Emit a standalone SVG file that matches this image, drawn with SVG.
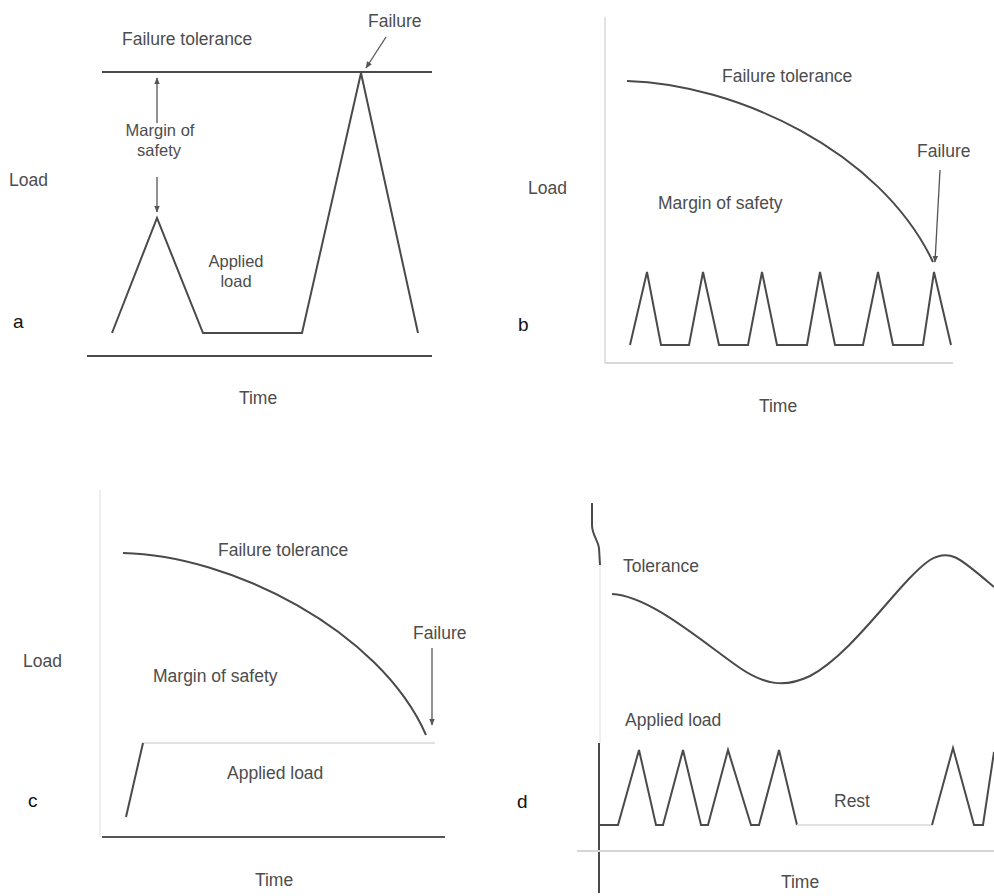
<svg xmlns="http://www.w3.org/2000/svg" width="994" height="896" viewBox="0 0 994 896">
<style>
text{font-family:"Liberation Sans",Arial,sans-serif;font-size:17.5px;fill:#4d4d4d}
.lbl{fill:#111;font-size:19px}
.m{text-anchor:middle}
.two{font-size:16.5px}
.ln{fill:none;stroke:#4a4a4a;stroke-width:2;stroke-linejoin:miter}
.lt{fill:none;stroke:#e2e2e2;stroke-width:2}
.ar{fill:none;stroke:#555;stroke-width:1.3}
</style>
<defs>
<marker id="ah" viewBox="0 0 10 10" refX="9" refY="5" markerWidth="7" markerHeight="7" orient="auto" markerUnits="userSpaceOnUse">
<path d="M0,1 L10,5 L0,9 Z" fill="#555"/>
</marker>
</defs>
<rect width="994" height="896" fill="#ffffff"/>

<g id="panel-a">
<text x="122" y="45">Failure tolerance</text>
<text x="368" y="27">Failure</text>
<text x="9" y="186">Load</text>
<text x="160" y="136" class="m two">Margin of</text>
<text x="159" y="155.5" class="m two">safety</text>
<text x="236" y="267" class="m two">Applied</text>
<text x="236" y="286.5" class="m two">load</text>
<text x="13" y="328" class="lbl">a</text>
<text x="258" y="404" class="m">Time</text>
<line x1="102" y1="72" x2="432" y2="72" class="ln"/>
<line x1="87" y1="356" x2="432" y2="356" class="ln"/>
<polyline points="112,333 157,218 203,333 302,333 361,73 418,333" class="ln"/>
</g>

<g id="panel-b">
<line x1="605" y1="17" x2="605" y2="363" class="lt"/>
<line x1="605" y1="363" x2="953" y2="363" class="lt" style="stroke:#d8d8d8"/>
<path d="M627,81 C735,84 880,150 933,262" class="ln"/>
<text x="722" y="82">Failure tolerance</text>
<text x="917" y="157">Failure</text>
<text x="528" y="194">Load</text>
<text x="658" y="209">Margin of safety</text>
<text x="518" y="331" class="lbl">b</text>
<text x="778" y="412" class="m">Time</text>
<polyline points="630,345 647,272 661,345 689,345 703,272 719,345 748,345 762,272 777,345 807,345 820,272 835,345 863,345 878,272 893,345 923,345 934,272 951,345" class="ln"/>
</g>

<g id="panel-c">
<line x1="100" y1="490" x2="100" y2="837" class="lt" style="stroke:#efefef"/>
<line x1="102" y1="837" x2="445" y2="837" class="ln" style="stroke:#555"/>
<path d="M123,553 C230,555 380,630 426,735" class="ln"/>
<text x="218" y="556">Failure tolerance</text>
<text x="413" y="639">Failure</text>
<text x="23" y="667">Load</text>
<text x="153" y="682">Margin of safety</text>
<line x1="143" y1="743" x2="435" y2="743" class="lt"/>
<line x1="126" y1="817" x2="143" y2="743" class="ln"/>
<text x="227" y="779">Applied load</text>
<text x="28" y="807" class="lbl">c</text>
<text x="274" y="886" class="m">Time</text>
</g>

<g id="panel-d">
<path d="M592,503 L592,525 C592,535 598,540 599,548 L600,565" class="ln"/>
<line x1="600" y1="565" x2="600" y2="743" class="lt" style="stroke:#eeeeee"/>
<line x1="599" y1="743" x2="599" y2="893" class="ln"/>
<line x1="577" y1="851" x2="994" y2="851" class="lt" style="stroke:#d6d6d6"/>
<text x="623" y="572">Tolerance</text>
<path d="M612,594 C650,596 700,640 740,668 C765,685 785,688 810,676 C855,652 900,580 930,560 C950,548 960,558 994,587" class="ln"/>
<text x="625" y="726">Applied load</text>
<polyline points="599,825 618,825 639,750 656,825 663,825 683,750 701,825 708,825 728,750 751,825 759,825 779,750 797,825" class="ln"/>
<line x1="797" y1="825" x2="932" y2="825" class="lt"/>
<polyline points="932,825 953,748 974,825 983,825 994,752" class="ln"/>
<text x="834" y="807">Rest</text>
<text x="517" y="808" class="lbl">d</text>
<text x="800" y="888" class="m">Time</text>
</g>

<g id="connectors">
<line x1="157" y1="123" x2="157" y2="78" class="ar" marker-end="url(#ah)"/>
<line x1="157" y1="177" x2="157" y2="212" class="ar" marker-end="url(#ah)"/>
<line x1="386" y1="37" x2="366" y2="68" class="ar" marker-end="url(#ah)"/>
<line x1="940" y1="170" x2="935" y2="262" class="ar" marker-end="url(#ah)"/>
<line x1="432" y1="648" x2="432" y2="725" class="ar" marker-end="url(#ah)"/>
</g>
</svg>
